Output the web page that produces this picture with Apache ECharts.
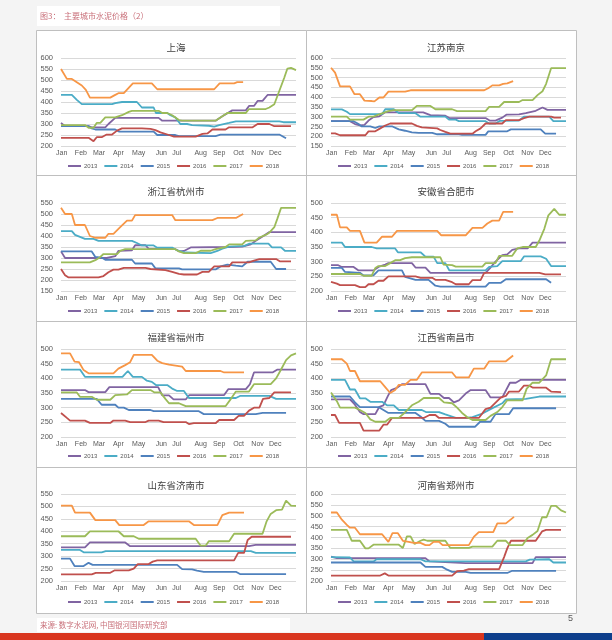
<!DOCTYPE html>
<html><head><meta charset="utf-8">
<script src="https://cdn.jsdelivr.net/npm/echarts@6/dist/echarts.min.js"></script>
<style>html,body{margin:0;padding:0;background:#f4f4f4;}#c{width:612px;height:640px;}</style>
</head><body><div id="c"></div>
<script>
const years = ['2013','2014','2015','2016','2017','2018'];
const yearColors = ['#8064A2','#4BACC6','#4F81BD','#C0504D','#9BBB59','#F79646'];
const monthNames = ['Jan','Feb','Mar','Apr','May','Jun','Jul','Aug','Sep','Oct','Nov','Dec'];
const monthPos = [0.15,4.4,8.4,12.7,17.2,22.2,25.6,30.9,35,39.3,43.5,47.4];
const cityNames = ['上海','江苏南京','浙江省杭州市','安徽省合肥市','福建省福州市','江西省南昌市','山东省济南市','河南省郑州市'];
const yMin = [200,150,150,200,200,200,200,200];
const yMax = [600,600,550,500,500,500,550,600];

// 上海 [week, price]
const sh13=[[0,305],[0.9,290],[6.1,290],[6.8,285],[9.8,285],[10.5,300],[12,328],[21.6,328],[22.4,315],[34.2,315],[35.7,335],[37.9,362],[40.9,362],[41.6,382],[42.7,382],[43.5,405],[44.6,405],[45.7,432],[52,432]];
const sh14=[[0,432],[2.4,432],[3.5,410],[4.6,390],[11.3,390],[12,395],[13.5,400],[16.8,400],[17.9,375],[20.5,375],[21,350],[23.5,350],[24.2,340],[25.3,330],[26.4,300],[27.9,300],[29,295],[32.7,292],[33.9,288],[35,295],[37.2,305],[38.7,312],[48.3,312],[49.2,308],[52,308]];
const sh15=[[0,290],[6.1,290],[6.8,280],[7.6,275],[12,275],[12.9,265],[20.5,265],[21.3,250],[25.3,250],[26.1,245],[34.2,245],[35.3,252],[48.3,252],[49.8,235]];
const sh16=[[0,237],[6.1,237],[7.2,222],[7.9,240],[9,240],[10.1,252],[11.3,252],[12.4,270],[13.5,280],[17.9,280],[19.8,278],[20.9,272],[22,262],[23.9,250],[25,243],[29.8,243],[31.3,255],[32.4,257],[33.5,275],[36.4,275],[37.2,285],[42.4,285],[43.5,300],[46.1,300],[47.2,290],[50.9,290]];
const sh17=[[0,295],[5.3,295],[6.1,283],[7.2,283],[7.9,305],[8.7,305],[9.8,330],[12,330],[13.5,340],[15,355],[15.7,360],[21.6,360],[22.4,350],[23.5,350],[24.6,340],[26.1,318],[26.8,315],[34.2,315],[35.7,335],[36.8,350],[40.9,350],[41.6,368],[45.3,368],[46.1,375],[47.2,390],[48.3,450],[49.4,510],[50.1,552],[50.9,555],[52,545]];
const sh18=[[0,550],[1.3,505],[2.4,505],[3.5,490],[4.6,475],[5.5,455],[6.4,420],[10.9,420],[11.8,430],[12.7,440],[13.9,440],[15.9,485],[20.1,485],[21.3,458],[33.9,458],[35.1,485],[38.3,485],[39,490],[40.3,490]];

// 江苏南京
const nj13=[[0,277],[4.2,277],[5.3,262],[6.4,255],[7.4,258],[8.3,280],[9.4,298],[10.7,302],[12,322],[20.4,322],[22,308],[25.3,305],[26.2,293],[34.2,293],[35.1,280],[36.4,280],[37.9,295],[38.8,310],[41.6,312],[43.1,318],[45.3,330],[46.8,347],[47.9,335],[52,335]];
const nj14=[[0,337],[2.4,337],[3.5,325],[4.2,313],[11.3,313],[12,338],[13.9,338],[15,318],[18.7,318],[19.8,300],[25.3,300],[26.1,285],[27.6,285],[28.3,277],[34.2,277],[35,265],[36.4,265],[37.3,278],[41.6,280],[42.7,300],[48.3,300],[49.2,277],[52,277]];
const nj15=[[0,277],[5,277],[6.1,262],[6.8,250],[8.7,250],[9.8,242],[10.7,250],[13.6,250],[15,235],[16.4,228],[17.9,220],[19.4,217],[22.4,217],[23.5,210],[28.3,210],[29,207],[34.2,207],[34.8,225],[39,225],[39.8,235],[46.4,235],[47.4,213],[49.8,213]];
const nj16=[[0,215],[0.9,215],[2,205],[7.6,205],[8.3,225],[9.8,225],[10.9,240],[12,255],[13.1,265],[17.9,265],[19,253],[20.1,245],[23.5,240],[24.2,232],[25.3,222],[26.4,213],[31.3,213],[32,225],[33.1,240],[34.2,265],[37.9,265],[38.7,282],[41.6,282],[42.7,292],[43.9,300],[48.7,300],[49.4,295],[50.9,295]];
const nj17=[[0,300],[3.5,300],[4.2,285],[7.2,285],[8.3,300],[9.4,300],[10.5,310],[12.7,328],[13.9,333],[17.9,333],[19,355],[22,355],[23.1,338],[26.8,338],[27.9,328],[34.2,328],[35,350],[37.2,350],[38.3,375],[41.6,375],[42.4,385],[44.6,385],[45.7,410],[46.8,430],[47.6,468],[48.7,548],[52,548]];
const nj18=[[0,550],[0.9,525],[2,455],[4.2,455],[5.2,415],[6.4,415],[7.4,382],[9,380],[9.6,378],[10.7,398],[11.6,398],[12.7,428],[16.4,428],[17.6,435],[33.9,435],[34.8,445],[35.7,460],[37.2,460],[38.1,468],[39,470],[40.3,482]];

// 浙江省杭州市
const hz13=[[0,330],[0.9,300],[9,300],[10.1,300],[12,308],[12.7,332],[15.7,335],[16.4,358],[18.7,358],[19.4,342],[25.3,340],[26.2,330],[27.2,332],[28.7,348],[37.2,350],[40.1,352],[42,362],[43.1,378],[44.6,398],[46.1,418],[52,418]];
const hz14=[[0,422],[2.4,422],[3.1,405],[5.3,387],[7.2,387],[8.3,378],[15.7,378],[16.8,368],[17.9,357],[20.5,357],[21.3,347],[24.6,347],[25.7,335],[27.6,325],[33.1,322],[34.6,332],[35.7,342],[37.2,352],[40.6,355],[41.6,365],[45.9,365],[46.7,348],[48.7,348],[49.6,332],[52,332]];
const hz15=[[0,330],[6.8,330],[7.6,305],[9,302],[9.8,292],[15.7,292],[16.4,275],[20.1,275],[20.9,253],[26.1,253],[26.8,248],[34.2,248],[35.3,262],[36.8,270],[38.7,265],[40.1,262],[41.3,283],[46.4,283],[47.6,250],[49.8,250]];
const hz16=[[0,250],[0.9,222],[1.6,212],[8.3,212],[9.4,218],[10.5,235],[11.6,247],[12.7,247],[13.9,255],[18.7,255],[19.8,250],[23.1,245],[24.6,237],[26.1,228],[27.2,225],[30.1,225],[31.3,237],[32.7,237],[33.9,262],[37.2,262],[37.9,280],[41.6,280],[42.7,288],[43.9,295],[47.6,295],[48.4,285],[50.9,285]];
const hz17=[[0,280],[6.4,280],[7.6,290],[8.7,305],[9.4,318],[12.4,318],[13.1,332],[14.2,340],[25.3,340],[26.1,330],[27.2,322],[29.8,322],[30.9,333],[33.1,333],[34.2,340],[36.4,350],[37.2,362],[40.1,362],[40.9,378],[43.1,380],[43.9,393],[45.3,405],[46.1,415],[47.2,440],[47.9,480],[48.7,528],[52,528]];
const hz18=[[0,528],[0.9,500],[2.4,500],[3.1,450],[5.3,450],[6.4,400],[7.6,392],[9.8,392],[10.5,410],[11.6,410],[13.1,440],[14.6,470],[15.7,470],[16.4,495],[24.6,495],[25.3,472],[33.5,472],[34.6,482],[38.7,482],[40.3,500]];

// 安徽省合肥市
const hf13=[[0,288],[1.6,288],[2.4,282],[5,282],[6.1,270],[9.4,270],[10.5,282],[12,290],[12.7,295],[17.9,295],[18.7,280],[20.9,280],[22,262],[34.2,262],[35.3,280],[36.4,300],[37.9,322],[39,325],[40.1,340],[41.6,345],[43.5,345],[44.6,365],[52,365]];
const hf14=[[0,365],[2.4,365],[3.1,350],[9,350],[10.1,345],[14.2,345],[14.8,332],[19.8,332],[20.9,317],[22.7,317],[23.5,295],[25.3,295],[26.2,270],[34.2,270],[35,282],[36.8,285],[37.9,302],[42,302],[42.7,318],[46.4,318],[47.6,310],[48.7,285],[52,285]];
const hf15=[[0,279],[2.4,279],[3.1,265],[6.4,262],[7.2,253],[9.4,253],[10.5,270],[15.7,270],[16.4,248],[18.7,238],[21.6,238],[23.1,218],[24.2,215],[34.2,215],[35,228],[37.6,228],[38.7,240],[47.6,240],[48.7,228]];
const hf16=[[0,231],[1.3,225],[2,220],[5.3,220],[6.4,213],[7.6,213],[8.3,223],[9.4,223],[10.5,235],[11.6,235],[12.7,250],[18.7,250],[19.8,245],[22.4,245],[23.1,238],[25.3,238],[26.8,230],[27.6,223],[30.5,223],[31.3,237],[33.1,237],[33.9,262],[46.1,262],[47.4,257],[50.9,257]];
const hf17=[[0,258],[6.4,258],[7.2,252],[9,252],[9.8,278],[10.5,285],[12,285],[13.1,295],[14.2,305],[15.3,305],[16.4,312],[17.9,315],[24.2,315],[24.9,290],[26.8,288],[27.6,283],[33.5,283],[34.2,295],[36.4,295],[37.2,320],[40.1,320],[41.2,345],[42.4,350],[45.3,350],[46.1,372],[47.2,412],[48.1,458],[49.4,480],[50.5,460],[52,460]];
const hf18=[[0,460],[1.3,460],[2,417],[3.5,417],[4.2,405],[6.4,405],[7.4,365],[10.1,365],[11.3,385],[13.5,385],[14.6,405],[23.5,405],[24.4,390],[29.8,390],[31.3,415],[33.5,415],[34.6,430],[35.7,440],[37.2,440],[38.1,470],[40.3,470]];

// 福建省福州市
const fz13=[[0,360],[5.3,360],[6.1,353],[9.8,353],[10.7,370],[21.5,370],[22.4,342],[23.9,342],[24.9,328],[27.6,328],[28.4,343],[36.1,343],[37,363],[40.9,363],[41.8,380],[42.7,420],[46.8,420],[47.9,430],[52,430]];
const fz14=[[0,430],[4.2,430],[5.3,405],[13.6,405],[14.8,425],[15.9,405],[17.9,405],[19,392],[20.1,388],[21,377],[23.5,377],[24.6,365],[25.7,357],[27.2,357],[28.3,333],[38.7,333],[39.6,340],[46.1,340],[47.6,330],[52,330]];
const fz15=[[0,330],[7.9,330],[9,310],[12,310],[12.7,300],[13.9,300],[15,292],[19.8,292],[20.5,288],[30.5,288],[31.6,278],[43.1,278],[44.6,282],[49.8,282]];
const fz16=[[0,282],[1.3,265],[2,256],[5.3,256],[6.4,248],[10.9,248],[11.6,256],[14.2,256],[15.3,251],[18.7,251],[19.4,256],[21.6,256],[22.7,251],[27.6,251],[28.3,244],[29.4,247],[34.2,247],[35,258],[38.3,258],[39.3,272],[40.5,272],[41.6,290],[42.7,300],[43.9,300],[44.7,330],[46.1,333],[47.2,352],[50.9,352]];
const fz17=[[0,352],[3.5,352],[4.2,337],[6.8,337],[7.9,327],[10.9,327],[12,343],[14.6,345],[15.7,360],[19.8,360],[20.7,352],[22,352],[23.1,330],[23.9,315],[26.1,315],[27.6,305],[36.4,305],[37.6,330],[38.7,355],[41.6,355],[42.7,380],[46.4,380],[47.6,400],[48.7,430],[49.8,462],[50.9,478],[52,485]];
const fz18=[[0,485],[2,485],[3,457],[4,455],[5,428],[6.1,417],[11.6,417],[12.7,433],[14.2,445],[15.3,455],[16.1,480],[20.1,480],[21.3,460],[22.4,452],[23.9,447],[26.8,440],[27.6,425],[35.3,425],[36.1,420],[40.5,420]];

// 江西省南昌市
const nc13=[[0,328],[4.2,328],[5.3,310],[6.4,285],[7.2,278],[9.8,278],[10.7,303],[11.6,308],[12.6,340],[13.3,360],[14.6,368],[15.7,380],[20.9,380],[22,347],[23.9,347],[25,333],[26.1,333],[27.2,318],[28.3,325],[29.8,348],[30.9,360],[34.2,360],[35.3,335],[37.9,335],[39.6,385],[40.9,385],[42,395],[52,395]];
const nc14=[[0,395],[3.1,395],[4.2,362],[5.3,362],[6.4,332],[7.6,332],[8.7,320],[11.3,320],[12.4,308],[13.9,308],[15,292],[20.1,292],[21,285],[23.9,285],[25.3,277],[27.6,265],[29.8,265],[31.3,268],[33.5,280],[35.3,295],[37.9,315],[38.7,328],[43.1,330],[46.1,338],[52,338]];
const nc15=[[0,338],[4.2,338],[5.3,318],[6.4,302],[10.5,302],[11.6,292],[12.7,282],[18.7,282],[19.8,270],[20.9,255],[23.9,255],[25.3,245],[26.1,235],[31.9,235],[33,252],[35.3,252],[36.4,278],[39.4,278],[40.3,298],[49.8,298]];
const nc16=[[0,275],[0.9,275],[1.8,248],[6.4,248],[7.2,222],[10.7,222],[11.6,242],[12.4,242],[13.5,265],[20.5,265],[21.8,275],[23.1,275],[23.9,265],[32.7,265],[34.2,295],[35.3,300],[37.6,335],[38.7,340],[39.4,355],[41.6,355],[42.7,375],[43.9,375],[44.7,368],[47.6,368],[48.7,355],[50.9,353]];
const nc17=[[0,352],[1.3,322],[2,300],[5.3,300],[6.4,292],[7.6,282],[8.7,260],[9.8,252],[12,252],[13.1,265],[15,265],[16.1,280],[17.9,308],[19.4,320],[20.5,333],[23.9,333],[25,318],[26.8,315],[27.9,300],[29,282],[30.1,268],[31.3,258],[34.2,258],[35.3,272],[36.8,285],[37.9,302],[39,325],[42.4,325],[43.3,365],[44.6,385],[46.1,385],[47.6,410],[48.7,465],[52,465]];
const nc18=[[0,465],[2.4,465],[3.5,450],[4.2,425],[5.3,425],[6.4,390],[10.9,390],[12,370],[13.1,350],[14.2,360],[15,378],[16.4,378],[17.6,395],[19,395],[20.1,420],[26.8,420],[27.7,403],[30.5,403],[31.6,433],[33.9,433],[35,458],[38.7,458],[40.3,478]];

// 山东省济南市
const jn13=[[0,335],[5.3,335],[6.4,355],[14.2,355],[15.3,340],[41.6,340],[43.1,345],[52,345]];
const jn14=[[0,325],[4.2,325],[5.1,315],[9,315],[9.9,320],[42,320],[43.1,313],[52,313]];
const jn15=[[0,290],[2,290],[3,260],[5,260],[6.1,273],[7,265],[25.7,265],[26.8,248],[29,247],[30.1,242],[31.6,237],[38.7,237],[39.6,228],[49.8,228]];
const jn16=[[0,227],[6.8,227],[7.7,233],[10.9,233],[11.9,243],[15,243],[16.1,250],[17,268],[19.4,268],[20.3,278],[21.3,283],[38.3,283],[39.2,313],[40.5,313],[41.3,365],[42.2,378],[50.9,378]];
const jn17=[[0,380],[5.3,380],[6.4,400],[12.7,400],[13.9,380],[16.1,380],[17.2,370],[29.8,370],[30.9,342],[32,342],[32.7,360],[37.2,360],[38.3,390],[44.6,390],[45.5,440],[46.4,470],[47.6,485],[48.9,487],[49.8,523],[50.9,503],[52,502]];
const jn18=[[0,503],[2.4,503],[3.1,475],[6.4,475],[7.6,445],[12,445],[12.9,425],[18.3,425],[19.4,440],[28.3,440],[29.4,425],[34.6,425],[35.7,465],[37.2,475],[40.5,475]];

// 河南省郑州市
const zz13=[[0,312],[1.3,305],[20.9,305],[21.8,290],[29.8,282],[44.6,282],[45.3,310],[52,310]];
const zz14=[[0,310],[4.2,308],[5,290],[9.4,290],[10.1,300],[19.8,300],[20.9,290],[29.8,290],[43.1,290],[44,298],[48.3,300],[49.2,285],[52,285]];
const zz15=[[0,285],[19.8,285],[20.9,265],[24.6,265],[25.7,252],[26.8,242],[29.8,242],[30.9,237],[39,237],[40.1,247],[49.8,247]];
const zz16=[[0,225],[10.9,225],[11.9,235],[12.7,225],[26.8,225],[27.9,245],[29.4,248],[30.5,255],[37.2,255],[38.3,310],[39,350],[39.8,385],[45.3,385],[46.7,428],[47.6,435],[50.9,435]];
const zz17=[[0,435],[3.5,435],[4.6,385],[6.4,385],[7.6,350],[8.3,350],[9.4,367],[15,367],[15.9,352],[16.8,405],[17.6,405],[18.5,370],[19.8,385],[20.5,390],[21.3,385],[25.3,385],[26.4,352],[30.5,352],[31.3,358],[35.7,358],[36.8,385],[38.7,385],[39.6,365],[42.4,365],[43.5,398],[44.6,412],[45.7,430],[46.7,493],[47.7,493],[48.7,545],[49.8,545],[50.9,525],[52,515]];
const zz18=[[0,515],[1.3,515],[2.4,482],[3.5,458],[4.2,445],[5.3,445],[6.4,415],[11.3,415],[12.7,380],[13.6,420],[14.8,420],[15.9,385],[17.2,380],[18.3,375],[19.8,375],[20.9,365],[21.8,365],[22.7,380],[23.9,380],[24.7,365],[30.5,365],[31.6,403],[32.7,425],[35.9,425],[36.8,465],[38.7,465],[40.5,495]];

const cityData = [
  [sh13,sh14,sh15,sh16,sh17,sh18],
  [nj13,nj14,nj15,nj16,nj17,nj18],
  [hz13,hz14,hz15,hz16,hz17,hz18],
  [hf13,hf14,hf15,hf16,hf17,hf18],
  [fz13,fz14,fz15,fz16,fz17,fz18],
  [nc13,nc14,nc15,nc16,nc17,nc18],
  [jn13,jn14,jn15,jn16,jn17,jn18],
  [zz13,zz14,zz15,zz16,zz17,zz18]
];

// layout
const colX = [36, 306];
const plotTop = [58, 203, 349, 494];
const plotBot = [146, 291, 437, 581];
const titleY = [45, 189, 335, 483];
const legendY = [167, 312, 457, 603];
const cjk = '"Noto Sans CJK SC", sans-serif';
const latin = '"Liberation Sans", Arial, sans-serif';

const grid=[], xAxis=[], yAxis=[], series=[], title=[], legend=[];
cityNames.forEach((name, i) => {
  const col = i % 2, row = Math.floor(i / 2);
  const px = colX[col];
  grid.push({left: px + 25, top: plotTop[row], width: 235, height: plotBot[row] - plotTop[row]});
  xAxis.push({
    type: 'value', gridIndex: i, min: 0, max: 52,
    axisLine: {show: false}, axisTick: {show: false}, splitLine: {show: false},
    axisLabel: {
      customValues: monthPos, margin: 4, fontSize: 7, color: '#595959', fontFamily: latin,
      formatter: v => { let k = 0, d = 1e9; monthPos.forEach((p, j) => { if (Math.abs(p - v) < d) { d = Math.abs(p - v); k = j; } }); return monthNames[k]; }
    }
  });
  yAxis.push({
    type: 'value', gridIndex: i, min: yMin[i], max: yMax[i], interval: 50,
    axisLine: {show: false}, axisTick: {show: false},
    splitLine: {lineStyle: {color: '#d9d9d9', width: 1}},
    axisLabel: {margin: 8, fontSize: 7.5, color: '#595959', fontFamily: latin}
  });
  title.push({
    text: name, left: px + 135, top: titleY[row] - 7, textAlign: 'center',
    textStyle: {fontSize: 9.5, fontWeight: 'normal', color: '#404040', fontFamily: cjk}
  });
  legend.push({
    data: years, left: px + 32, top: legendY[row] - 4, icon: 'rect', itemWidth: 13, itemHeight: 2,
    itemGap: 7, selectedMode: false, padding: 0,
    textStyle: {fontSize: 6, color: '#595959', fontFamily: latin, padding: [0, 0, 0, -2]}
  });
  cityData[i].forEach((d, k) => {
    series.push({
      type: 'line', name: years[k], xAxisIndex: i, yAxisIndex: i, data: d,
      showSymbol: false, symbol: 'none', color: yearColors[k],
      lineStyle: {width: 1.8, color: yearColors[k]}, emphasis: {disabled: true}
    });
  });
});

const graphic = [
  {type: 'rect', shape: {x: 36.5, y: 30.5, width: 540, height: 583}, style: {fill: '#fff', stroke: '#bfbfbf', lineWidth: 1}, z: -10},
  {type: 'line', shape: {x1: 306.5, y1: 30.5, x2: 306.5, y2: 613.5}, style: {stroke: '#bfbfbf', lineWidth: 1}, z: -9},
  {type: 'line', shape: {x1: 36.5, y1: 175.5, x2: 576.5, y2: 175.5}, style: {stroke: '#bfbfbf', lineWidth: 1}, z: -9},
  {type: 'line', shape: {x1: 36.5, y1: 321.5, x2: 576.5, y2: 321.5}, style: {stroke: '#bfbfbf', lineWidth: 1}, z: -9},
  {type: 'line', shape: {x1: 36.5, y1: 467.5, x2: 576.5, y2: 467.5}, style: {stroke: '#bfbfbf', lineWidth: 1}, z: -9},
  {type: 'rect', shape: {x: 37, y: 6, width: 243, height: 20}, style: {fill: '#fff'}, z: -9},
  {type: 'text', x: 40, y: 16, style: {text: '图3：  主要城市水泥价格（2）', fill: '#c9707a', fontSize: 8, fontFamily: cjk, verticalAlign: 'middle'}},
  {type: 'rect', shape: {x: 37, y: 618, width: 253, height: 14}, style: {fill: '#fff'}, z: -9},
  {type: 'text', x: 40, y: 625.5, style: {text: '来源: 数字水泥网, 中国银河国际研究部', fill: '#c9707a', fontSize: 7.5, fontFamily: cjk, verticalAlign: 'middle'}},
  {type: 'text', x: 568, y: 619, style: {text: '5', fill: '#595959', fontSize: 9, fontFamily: latin, verticalAlign: 'middle'}},
  {type: 'rect', shape: {x: 0, y: 633, width: 484, height: 7}, style: {fill: '#d9361f'}},
  {type: 'rect', shape: {x: 484, y: 633, width: 128, height: 7}, style: {fill: '#0e3f8c'}}
];

const chart = echarts.init(document.getElementById('c'), null, {renderer: 'canvas'});
chart.setOption({backgroundColor: '#f4f4f4', animation: false, grid, xAxis, yAxis, series, title, legend, graphic});
</script></body></html>
